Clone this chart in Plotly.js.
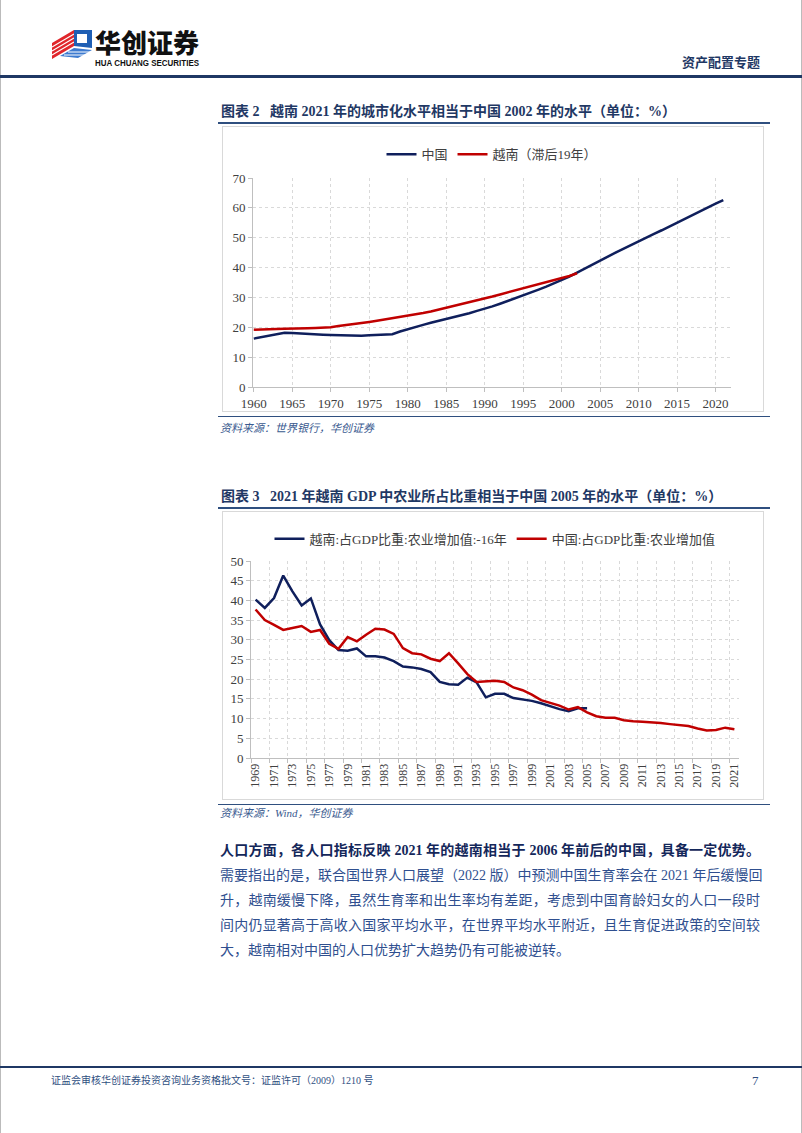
<!DOCTYPE html>
<html><head><meta charset="utf-8">
<script src="https://cdn.plot.ly/plotly-3.0.1.min.js"></script>
<style>
html,body{margin:0;padding:0;}
body{width:802px;height:1133px;background:#fff;position:relative;overflow:hidden;font-family:"Liberation Serif","Noto Sans CJK SC",serif;}
.a{position:absolute;white-space:nowrap;}
.title{font-size:14px;font-weight:bold;color:#1F3864;line-height:18px;}
.rule{position:absolute;height:2px;background:#2F4F7F;}
.src{font-size:11px;font-style:italic;color:#3A5A8F;line-height:14px;}
.box{position:absolute;border:1px solid #D9D9D9;box-sizing:border-box;}
.para{position:absolute;left:220px;width:540px;font-size:14px;line-height:18px;white-space:nowrap;text-align:justify;text-align-last:justify;color:#2F4F8F;}
</style></head>
<body>
<!-- page frame -->
<div style="position:absolute;left:0;top:0;width:1px;height:1133px;background:#bbb"></div>
<div style="position:absolute;right:0;top:0;width:1px;height:1133px;background:#bbb"></div>

<!-- header logo -->
<svg class="a" style="left:0;top:0" width="260" height="80">
  <polygon points="52,43 74,30 74,46 52,59" fill="#E0262B"/>
  <g stroke="#fff" stroke-width="1.1">
    <line x1="52" y1="47" x2="74" y2="34"/><line x1="52" y1="51" x2="74" y2="38"/>
    <line x1="52" y1="55" x2="74" y2="42"/>
  </g>
  <polygon points="74,30 92,30 92,48 74,46" fill="#1F5FB4"/>
  <rect x="77" y="34" width="10" height="9" fill="#fff"/>
  <polygon points="60,56 74,48 92,50 78,58" fill="#3D7BD0"/>
  <g stroke="#fff" stroke-width="1">
    <line x1="64" y1="55" x2="86" y2="55"/><line x1="68" y1="52" x2="90" y2="52"/>
  </g>
  <text x="95" y="53" font-family="Noto Sans CJK SC" font-weight="900" font-size="26" fill="#111" textLength="104" lengthAdjust="spacingAndGlyphs">华创证券</text>
  <text x="95" y="66" font-family="Liberation Sans" font-weight="bold" font-size="8.5" fill="#111" textLength="104" lengthAdjust="spacingAndGlyphs">HUA CHUANG SECURITIES</text>
</svg>
<div class="a" style="right:42px;top:53px;font-size:13px;font-weight:bold;color:#1F3864;font-family:'Noto Sans CJK SC';line-height:18px;">资产配置专题</div>
<div style="position:absolute;left:0;top:75px;width:802px;height:3px;background:#1F3864"></div>

<!-- chart 2 -->
<div class="a title" style="left:221px;top:103px;">图表 2&nbsp;&nbsp;&nbsp;越南 2021 年的城市化水平相当于中国 2002 年的水平（单位：%）</div>
<div class="rule" style="left:218px;top:122px;width:552px;"></div>
<div class="box" style="left:222px;top:126px;width:542px;height:286px;"></div>
<div id="c1" style="position:absolute;left:223px;top:127px;width:540px;height:284px;"></div>
<div class="rule" style="left:218px;top:416px;width:552px;height:1px;"></div>
<div class="a src" style="left:220px;top:421px;">资料来源：世界银行，华创证券</div>

<!-- chart 3 -->
<div class="a title" style="left:221px;top:488px;">图表 3&nbsp;&nbsp;&nbsp;2021 年越南 GDP 中农业所占比重相当于中国 2005 年的水平（单位：%）</div>
<div class="rule" style="left:218px;top:507px;width:552px;"></div>
<div class="box" style="left:222px;top:511px;width:542px;height:289px;"></div>
<div id="c2" style="position:absolute;left:223px;top:512px;width:540px;height:287px;"></div>
<div class="rule" style="left:218px;top:804px;width:552px;height:1px;"></div>
<div class="a src" style="left:220px;top:806px;">资料来源：Wind，华创证券</div>

<!-- paragraph -->
<div class="para" style="top:842px;font-weight:bold;color:#14275A;">人口方面，各人口指标反映 2021 年的越南相当于 2006 年前后的中国，具备一定优势。</div>
<div class="para" style="top:867px;">需要指出的是，联合国世界人口展望（2022 版）中预测中国生育率会在 2021 年后缓慢回</div>
<div class="para" style="top:892px;">升，越南缓慢下降，虽然生育率和出生率均有差距，考虑到中国育龄妇女的人口一段时</div>
<div class="para" style="top:917px;">间内仍显著高于高收入国家平均水平，在世界平均水平附近，且生育促进政策的空间较</div>
<div class="para" style="top:942px;text-align:left;text-align-last:left;">大，越南相对中国的人口优势扩大趋势仍有可能被逆转。</div>

<!-- footer -->
<div style="position:absolute;left:0;top:1066px;width:802px;height:2px;background:#1F3864"></div>
<div class="a" style="left:51px;top:1074px;font-size:10px;line-height:14px;color:#2F4F7F;">证监会审核华创证券投资咨询业务资格批文号：证监许可（2009）1210 号</div>
<div class="a" style="left:752px;top:1073px;font-size:13px;line-height:16px;color:#2F4F7F;">7</div>

<script>
// ---------- Chart 2 data: urbanization (%) ----------
var years1 = [1960,1961,1962,1963,1964,1965,1966,1967,1968,1969,1970,1971,1972,1973,1974,1975,1976,1977,1978,1979,
  1980,1981,1982,1983,1984,1985,1986,1987,1988,1989,1990,1991,1992,1993,1994,1995,1996,1997,1998,1999,
  2000,2001,2002,2003,2004,2005,2006,2007,2008,2009,2010,2011,2012,2013,2014,2015,2016,2017,2018,2019,2020,2021];
var chinaUrban = [16.2,16.7,17.2,17.7,18.2,18.1,17.9,17.8,17.7,17.5,17.4,17.3,17.2,17.1,17.2,17.3,17.4,17.5,17.7,18.6,
  19.4,20.1,20.8,21.5,22.1,22.7,23.4,24.0,24.7,25.5,26.2,27.0,27.9,28.8,29.7,30.6,31.6,32.6,33.6,34.7,
  35.8,37.0,38.3,39.7,41.1,42.4,43.7,45.0,46.3,47.6,48.9,50.1,51.3,52.5,53.8,55.0,56.3,57.6,58.9,60.2,61.4,62.6];
var vnUrbanLag19 = [19.2,19.2,19.3,19.4,19.5,19.5,19.6,19.7,19.8,19.9,20.0,20.4,20.7,21.1,21.5,21.8,22.2,22.6,23.0,23.4,
  23.8,24.3,24.8,25.3,25.9,26.5,27.1,27.7,28.3,28.9,29.6,30.3,31.0,31.7,32.3,33.0,33.7,34.4,35.0,35.7,
  36.4,37.2,38.1];
var xTicks1 = [1960,1965,1970,1975,1980,1985,1990,1995,2000,2005,2010,2015,2020];
var names1 = ["中国","越南（滞后19年）"];

// ---------- Chart 3 data: agriculture share of GDP (%) ----------
var years2 = [1969,1970,1971,1972,1973,1974,1975,1976,1977,1978,1979,1980,1981,1982,1983,1984,1985,1986,1987,1988,
  1989,1990,1991,1992,1993,1994,1995,1996,1997,1998,1999,2000,2001,2002,2003,2004,2005,2006,2007,2008,
  2009,2010,2011,2012,2013,2014,2015,2016,2017,2018,2019,2020,2021];
var vnAgriLag16 = [40.2,38.1,40.6,46.3,42.3,38.7,40.5,33.9,29.9,27.4,27.2,27.8,25.8,25.8,25.5,24.6,23.2,23.0,22.6,21.8,
  19.3,18.7,18.6,20.4,19.2,15.4,16.3,16.3,15.2,14.9,14.5,13.9,13.1,12.4,11.9,12.6,12.6];
var chinaAgri = [37.7,35.0,33.8,32.5,33.0,33.5,32.0,32.5,29.0,27.7,30.7,29.6,31.3,32.8,32.6,31.5,27.9,26.6,26.3,25.2,
  24.6,26.6,24.0,21.3,19.3,19.5,19.6,19.3,17.9,17.2,16.1,14.7,14.0,13.3,12.3,12.9,11.6,10.6,10.2,10.2,
  9.6,9.3,9.2,9.1,8.9,8.6,8.4,8.1,7.5,7.0,7.1,7.7,7.3];
var xTicks2 = [1969,1971,1973,1975,1977,1979,1981,1983,1985,1987,1989,1991,1993,1995,1997,1999,2001,2003,2005,2007,
  2009,2011,2013,2015,2017,2019,2021];
var names2 = ["越南:占GDP比重:农业增加值:-16年","中国:占GDP比重:农业增加值"];

var NAVY = "#0F1F5C", RED = "#C00000";
var FONT = "Liberation Serif, Noto Sans CJK SC, serif";
var axisBase = {
  showline:true, linecolor:"#BFBFBF", linewidth:1, ticks:"outside", ticklen:4, tickcolor:"#BFBFBF",
  showgrid:true, gridcolor:"#D9D9D9", griddash:"dot", gridwidth:1, zeroline:false,
  tickfont:{family:FONT, size:13, color:"#404040"}, fixedrange:true
};
function ax(extra){ return Object.assign({}, axisBase, extra); }

Plotly.newPlot("c1", [
  {x:years1, y:chinaUrban, name:names1[0], type:"scatter", mode:"lines", line:{color:NAVY, width:2.5}},
  {x:years1.slice(0, vnUrbanLag19.length), y:vnUrbanLag19, name:names1[1], type:"scatter", mode:"lines", line:{color:RED, width:2.5}}
], {
  width:540, height:284, margin:{l:30, r:32, t:39, b:24},
  paper_bgcolor:"#fff", plot_bgcolor:"#fff",
  font:{family:FONT, color:"#404040"},
  showlegend:true,
  legend:{orientation:"h", x:0.5, xanchor:"center", y:1.113, yanchor:"middle", font:{family:FONT, size:13, color:"#404040"}, itemwidth:30, tracegroupgap:0},
  xaxis:ax({range:[1959.9, 2022], tickmode:"array", tickvals:xTicks1, ticktext:xTicks1.map(String)}),
  yaxis:ax({range:[0,70], dtick:10, tick0:0})
}, {staticPlot:true, displayModeBar:false});

Plotly.newPlot("c2", [
  {x:years2.slice(0, vnAgriLag16.length), y:vnAgriLag16, name:names2[0], type:"scatter", mode:"lines", line:{color:NAVY, width:2.5}},
  {x:years2, y:chinaAgri, name:names2[1], type:"scatter", mode:"lines", line:{color:RED, width:2.5}}
], {
  width:540, height:287, margin:{l:28, r:24, t:43, b:41},
  paper_bgcolor:"#fff", plot_bgcolor:"#fff",
  font:{family:FONT, color:"#404040"},
  showlegend:true,
  legend:{orientation:"h", x:0.5, xanchor:"center", y:1.113, yanchor:"middle", font:{family:FONT, size:13, color:"#404040"}, itemwidth:30},
  xaxis:ax({range:[1968.5, 2021.5], tickmode:"array", tickvals:xTicks2, ticktext:xTicks2.map(String), tickangle:-90,
    ticks:"", showgrid:false, tickfont:{family:FONT, size:12, color:"#404040"},
    minor:{tick0:1968.5, dtick:2, ticks:"outside", ticklen:4, tickcolor:"#BFBFBF", showgrid:true, gridcolor:"#D9D9D9", griddash:"dot"}}),
  yaxis:ax({range:[0,50], dtick:5, tick0:0})
}, {staticPlot:true, displayModeBar:false});
</script>
</body></html>
